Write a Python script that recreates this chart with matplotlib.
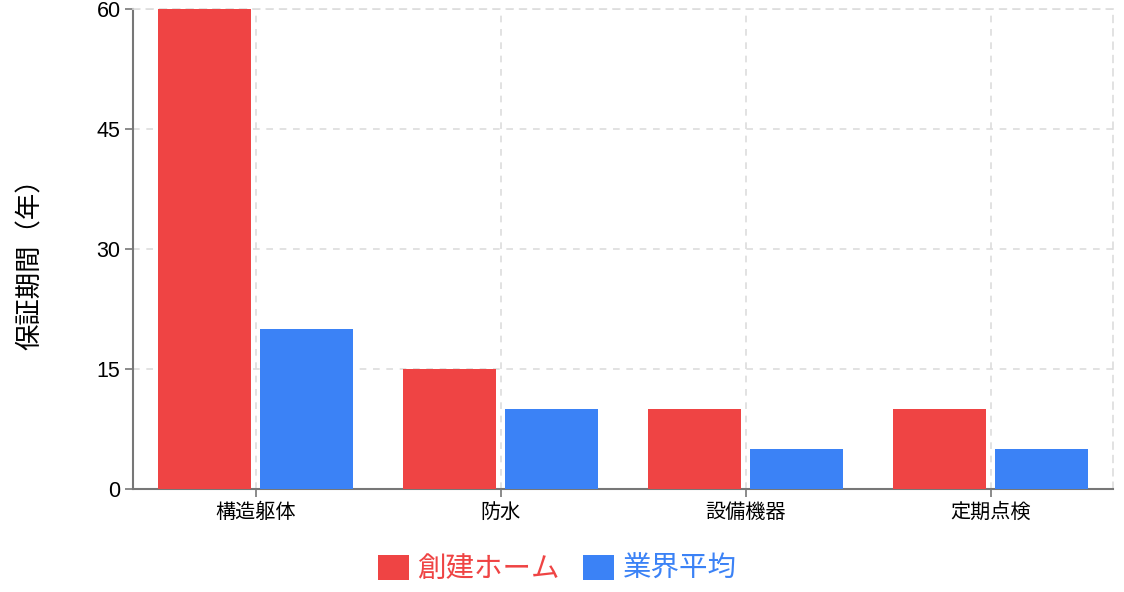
import matplotlib
matplotlib.use("Agg")
import matplotlib.pyplot as plt
from matplotlib.patches import Patch
import numpy as np

plt.rcParams['font.family'] = ['Noto Sans CJK JP', 'DejaVu Sans']

categories = ["構造躯体", "防水", "設備機器", "定期点検"]
series_names = ["創建ホーム", "業界平均"]
soken = [60, 15, 10, 10]
industry = [20, 10, 5, 5]
yticks = [0, 15, 30, 45, 60]
colors = ["#EF4444", "#3B82F6"]

fig = plt.figure(figsize=(11.24, 5.92), dpi=100)
ax = fig.add_axes([133/1124, 1-489/592, (1113-133)/1124, (489-9)/592])

x = np.arange(len(categories))
w = 0.38
off = 0.207
ax.bar(x - off, soken, width=w, color=colors[0], zorder=3)
ax.bar(x + off, industry, width=w, color=colors[1], zorder=3)

ax.set_xlim(-0.5, len(categories) - 0.5)
ax.set_ylim(0, 60)
ax.set_yticks(yticks)
ax.set_yticklabels([str(v) for v in yticks], family=['Liberation Sans', 'DejaVu Sans'], fontsize=15.5)
ax.set_xticks(x)
ax.set_xticklabels(categories, fontsize=14.5)
ax.tick_params(axis='y', length=6, color='#777777', width=1.2, pad=3)
ax.tick_params(axis='x', length=6, color='#777777', width=1.2, pad=3)

ax.grid(True, color='#dddddd', linestyle=(0, (4, 4)), linewidth=1.2, zorder=0)
for s in ['left', 'bottom']:
    ax.spines[s].set_color('#777777')
    ax.spines[s].set_linewidth(1.5)
for s in ['top', 'right']:
    ax.spines[s].set_color('#dddddd')
    ax.spines[s].set_linestyle((0, (4, 4)))
    ax.spines[s].set_linewidth(1.2)

ax.set_ylabel("保証期間（年）", fontsize=19)
ax.yaxis.set_label_coords((44-133)/980, (489-258)/480)

handles = [Patch(facecolor=c, edgecolor='none') for c in colors]
fig.legend(handles, series_names, loc='center', bbox_to_anchor=(557/1124, 1-569/592),
           ncol=2, frameon=False, fontsize=20.5, labelcolor=colors,
           handlelength=1.1, handleheight=1.0, handletextpad=0.3, columnspacing=0.8)

fig.savefig("out.png", dpi=100)
